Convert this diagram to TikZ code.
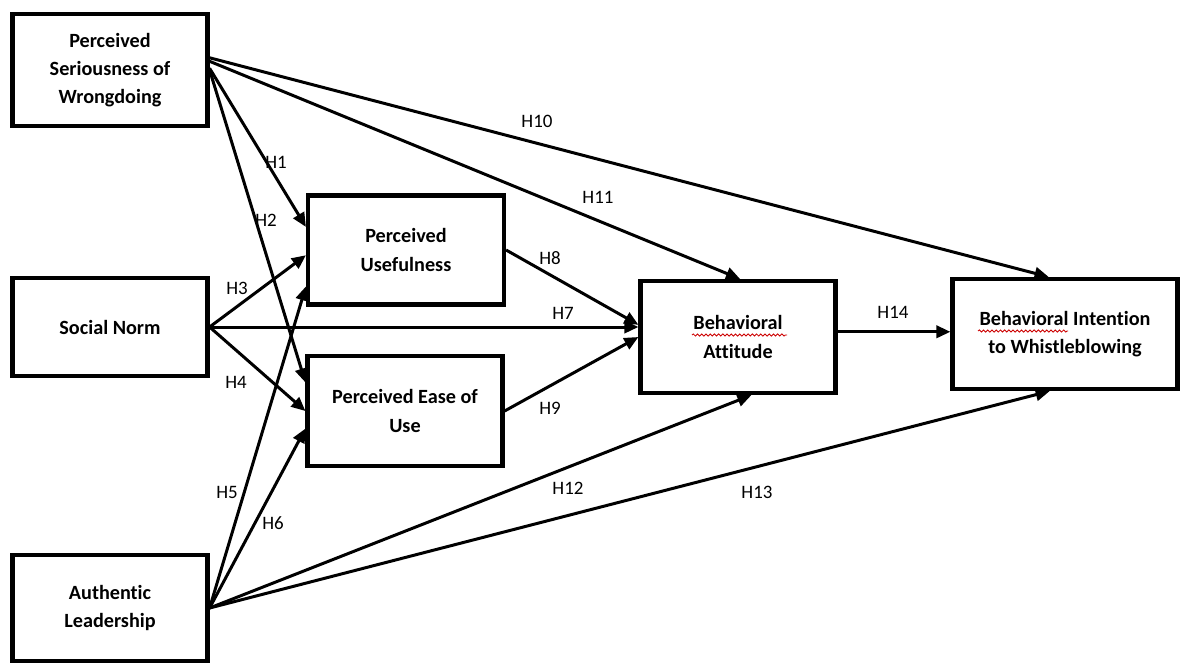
\documentclass[tikz,border=0pt]{standalone}
\usepackage{fontspec}
\setmainfont[Ligatures=NoCommon]{Carlito}
\usetikzlibrary{arrows.meta,calc,decorations.pathmorphing}

\begin{document}
\begin{tikzpicture}[x=0.02cm,y=-0.02cm,>={Triangle[length=8pt,width=7pt]},
    box/.style={draw,line width=2.4pt,align=center,inner sep=2pt,font=\fontsize{11.5}{16}\selectfont\bfseries},
    link/.style={->,line width=1.7pt},
    hyp/.style={inner sep=1pt,font=\fontsize{10.8}{12}\selectfont},
    spell/.style={red!80!black,line width=0.5pt,decorate,decoration={snake,amplitude=0.6pt,segment length=2.4pt}}]
        \useasboundingbox (0,0) rectangle (1182,663);
        % constructs
        \node[box,minimum width=3.9cm,minimum height=2.24cm] (psw) at (110,70) {Perceived\\Seriousness of\\Wrongdoing};
        \node[box,minimum width=3.9cm,minimum height=1.96cm] (norm) at (110,327) {Social Norm};
        \node[box,minimum width=3.9cm,minimum height=2.12cm] (lead) at (110,608) {Authentic\\Leadership};
        \node[box,minimum width=3.92cm,minimum height=2.18cm] (useful) at (406,250) {Perceived\\Usefulness};
        \node[box,minimum width=3.9cm,minimum height=2.2cm] (ease) at (405,411) {Perceived Ease of\\Use};
        \node[box,minimum width=3.9cm,minimum height=2.24cm] (attitude) at (738,337) {Behavioral\\Attitude};
        \node[box,minimum width=4.5cm,minimum height=2.2cm] (intent) at (1065,334) {Behavioral Intention\\to Whistleblowing};
        % spell-check marks
        \draw[spell] ($(attitude.center)+(-46,-2)$) -- ++(95,0);
        \draw[spell] ($(intent.center)+(-87,-3)$) -- ++(90,0);
        % hypotheses
        \draw[link] (psw.1) -- (useful.167);
        \draw[link] (psw.east) -- (ease.164);
        \draw[link] (norm.east) -- (useful.183);
        \draw[link] (norm.east) -- (ease.west);
        \draw[link] (lead.east) -- (useful.200);
        \draw[link] (lead.east) -- (ease.190);
        \draw[link] (norm.east) -- (norm.east -| attitude.west);
        \draw[link] (useful.east) -- (attitude.173);
        \draw[link] (ease.east) -- (attitude.west);
        \draw[link] (psw.7) -- (intent.106);
        \draw[link] (psw.5) -- (attitude.88);
        \draw[link] (lead.east) -- (attitude.283);
        \draw[link] (lead.east) -- (intent.255);
        \draw[link] (attitude.3) -- (attitude.3 -| intent.west);
        % labels
        \node[hyp] (h1) at (276,162) {H1};
        \node[hyp] (h2) at (266,220) {H2};
        \node[hyp] (h3) at (237,288) {H3};
        \node[hyp] (h4) at (236,382) {H4};
        \node[hyp] (h5) at (227,492) {H5};
        \node[hyp] (h6) at (273,523) {H6};
        \node[hyp] (h7) at (563,313) {H7};
        \node[hyp] (h8) at (550,258) {H8};
        \node[hyp] (h9) at (550,408) {H9};
        \node[hyp] (h10) at (537,121) {H10};
        \node[hyp] (h11) at (598,197) {H11};
        \node[hyp] (h12) at (568,488) {H12};
        \node[hyp] (h13) at (757,492) {H13};
        \node[hyp] (h14) at (893,312) {H14};
\end{tikzpicture}
\end{document}
